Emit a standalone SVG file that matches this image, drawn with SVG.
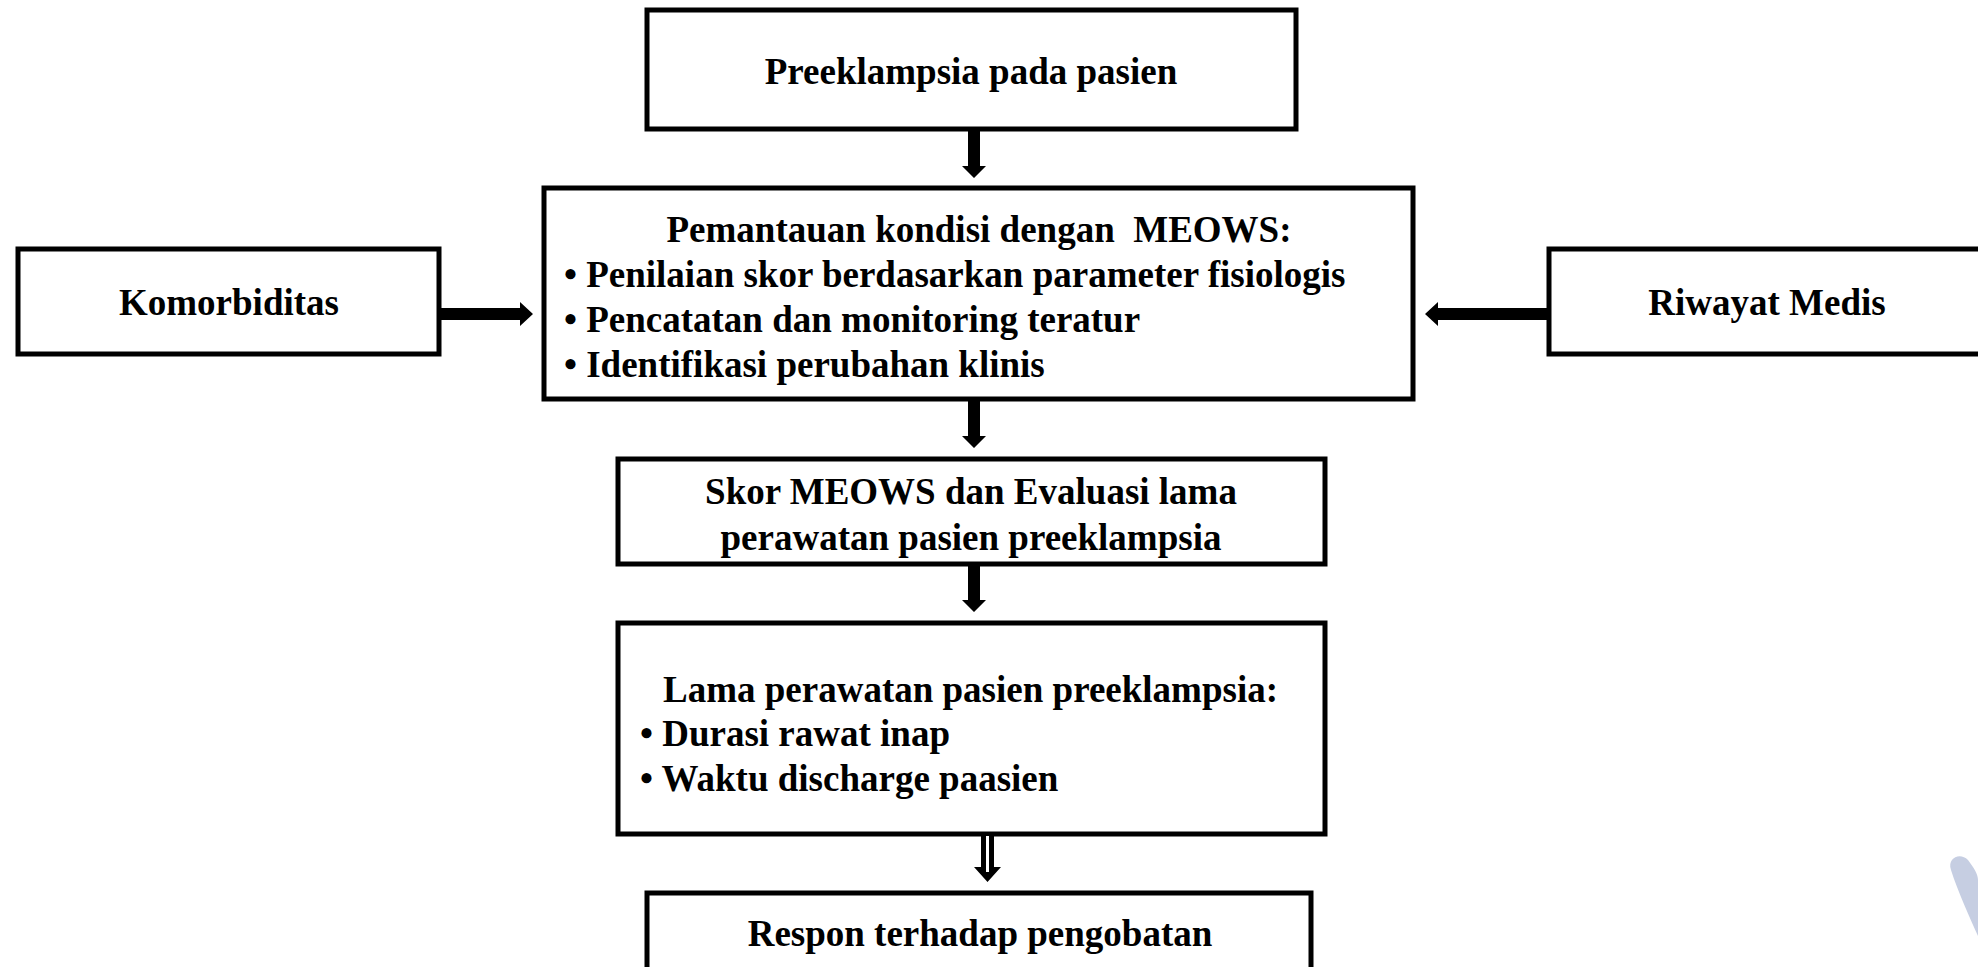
<svg xmlns="http://www.w3.org/2000/svg" width="1978" height="967" viewBox="0 0 1978 967">
<style>
.box{fill:#fff;stroke:#000;stroke-width:5}
.t{font-family:"Liberation Serif","Times New Roman",serif;font-weight:bold;font-size:37px;fill:#000}
.c{text-anchor:middle}
.arr{fill:#000}
</style>
<rect width="1978" height="967" fill="#fff"/>
<g id="n1">
<rect class="box" x="647" y="10" width="649" height="119"/>
<text class="t c" x="971" y="84">Preeklampsia pada pasien</text>
</g>
<g id="n2">
<rect class="box" x="544" y="188" width="869" height="211"/>
<text class="t c" x="979" y="242" xml:space="preserve">Pemantauan kondisi dengan  MEOWS:</text>
<text class="t" x="564" y="287">• Penilaian skor berdasarkan parameter fisiologis</text>
<text class="t" x="564" y="332">• Pencatatan dan monitoring teratur</text>
<text class="t" x="564" y="377">• Identifikasi perubahan klinis</text>
</g>
<g id="n3">
<rect class="box" x="18" y="249" width="421" height="105"/>
<text class="t c" x="229" y="315">Komorbiditas</text>
</g>
<g id="n4">
<rect class="box" x="1549" y="249" width="437" height="105"/>
<text class="t c" x="1767" y="315">Riwayat Medis</text>
</g>
<g id="n5">
<rect class="box" x="618" y="459" width="707" height="105"/>
<text class="t c" x="971" y="504">Skor MEOWS dan Evaluasi lama</text>
<text class="t c" x="971" y="550">perawatan pasien preeklampsia</text>
</g>
<g id="n6">
<rect class="box" x="618" y="623" width="707" height="211"/>
<text class="t" x="663" y="702">Lama perawatan pasien preeklampsia:</text>
<text class="t" x="640" y="746">• Durasi rawat inap</text>
<text class="t" x="640" y="791">• Waktu discharge paasien</text>
</g>
<g id="n7">
<rect class="box" x="647" y="893" width="664" height="100"/>
<text class="t c" x="980" y="946">Respon terhadap pengobatan</text>
</g>
<g id="connectors">
<polygon class="arr" points="968,131 980,131 980,166 986,166 974,178 962,166 968,166"/>
<polygon class="arr" points="968,401 980,401 980,436 986,436 974,448 962,436 968,436"/>
<polygon class="arr" points="968,566 980,566 980,600 986,600 974,612 962,600 968,600"/>
<g id="hollow-arrow">
<polygon class="arr" points="981,836 994,836 994,867 1001,867 987.5,882 974,867 981,867"/>
<rect x="986" y="836" width="3" height="36" fill="#fff"/>
</g>
<polygon class="arr" points="441,308 520,308 520,302 533,314 520,326 520,320 441,320"/>
<polygon class="arr" points="1547,308 1438,308 1438,302 1425,314 1438,326 1438,320 1547,320"/>
</g>
<path d="M1951,870 C1947,858 1960,852 1968,860 C1974,868 1978,874 1978,880 L1978,936 C1970,918 1958,892 1951,870 Z" fill="#c6cee2"/>
</svg>
